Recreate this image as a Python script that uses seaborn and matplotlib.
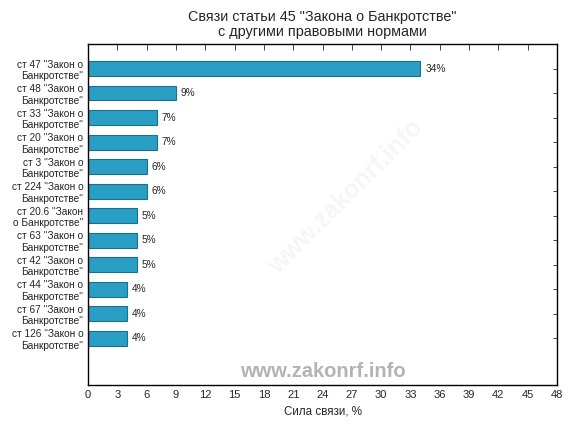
import pandas as pd
import matplotlib
matplotlib.use('Agg')
import matplotlib.pyplot as plt
import seaborn as sns

# Данные: связи статьи 45 с другими нормами
статьи = ['ст 47 "Закон о\nБанкротстве"', 'ст 48 "Закон о\nБанкротстве"',
          'ст 33 "Закон о\nБанкротстве"', 'ст 20 "Закон о\nБанкротстве"',
          'ст 3 "Закон о\nБанкротстве"', 'ст 224 "Закон о\nБанкротстве"',
          'ст 20.6 "Закон\nо Банкротстве"', 'ст 63 "Закон о\nБанкротстве"',
          'ст 42 "Закон о\nБанкротстве"', 'ст 44 "Закон о\nБанкротстве"',
          'ст 67 "Закон о\nБанкротстве"', 'ст 126 "Закон о\nБанкротстве"']
сила = [34, 9, 7, 7, 6, 6, 5, 5, 5, 4, 4, 4]
x_ticks = list(range(0, 49, 3))

df = pd.DataFrame({'статья': статьи, 'сила': сила})

sns.set_style('white')
plt.rcParams['font.family'] = ['Liberation Sans', 'DejaVu Sans']

fig = plt.figure(figsize=(5.76, 4.32), dpi=100)
ax = fig.add_axes([0.153, 0.109, 0.814, 0.789])

sns.barplot(data=df, x='сила', y='статья', orient='h', ax=ax,
            color='#2a9fc6', edgecolor='#1b6e8c', linewidth=0.8,
            width=0.6, saturation=1)

for i, v in enumerate(сила):
    ax.text(v + 0.5, i, f'{v}%', va='center', ha='left', fontsize=7.3)

ax.set_xlim(0, 48)
ax.set_ylim(12.9, -1)
ax.set_xticks(x_ticks)
ax.tick_params(axis='x', labelsize=8, direction='in', top=True, length=4, width=0.6)
ax.tick_params(axis='y', labelsize=7.3, direction='in', right=True, length=3, width=0.6)
for lbl in ax.get_yticklabels():
    lbl.set_horizontalalignment('right')
    lbl.set_multialignment('right')
for s in ax.spines.values():
    s.set_color('black')
    s.set_linewidth(1.0)

ax.set_xlabel('Сила связи, %', fontsize=8.4)
ax.set_ylabel('')
ax.set_title('Связи статьи 45 "Закона о Банкротстве"\nс другими правовыми нормами',
             fontsize=10.4, linespacing=1.1)

# водяные знаки
ax.text(0.5, 0.04, 'www.zakonrf.info', transform=ax.transAxes, ha='center',
        va='center', fontsize=14.5, fontweight='bold', color='#b3b3b3')
ax.text(0.55, 0.55, 'www.zakonrf.info', transform=ax.transAxes, ha='center',
        va='center', fontsize=18, fontweight='bold', color='#f6f6f6',
        rotation=45, zorder=0)

plt.savefig('out.png', dpi=100)
